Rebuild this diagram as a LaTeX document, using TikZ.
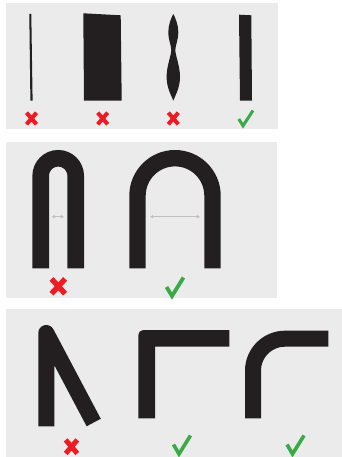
\documentclass[tikz,border=0pt]{standalone}
\usepackage{tikz}
\usetikzlibrary{arrows.meta}
\usepackage{xcolor}
\definecolor{panelgray}{HTML}{EBEBEB}
\definecolor{ink}{HTML}{231F20}
\definecolor{wrongred}{HTML}{ED1C24}
\definecolor{rightgreen}{HTML}{3AAA48}

\begin{document}
\begin{tikzpicture}[x=1pt,y=-1pt,
  panel/.style={fill=panelgray},
  crossmk/.style={wrongred,line width=4},
  checkmk/.style={rightgreen,line width=3,line join=miter},
  gapline/.style={gray!50,line width=0.8,{Latex[length=3.2,width=4]}-{Latex[length=3.2,width=4]}}]
  \useasboundingbox (0,0) rectangle (342,457);
  \begin{scope}
    \fill[panel] (6,3) rectangle (278,129);
    \fill[ink] (29.3,14) -- (31.3,14) -- (32.6,100.7) -- (30.4,100.7) -- cycle;
    \fill[ink] (83.3,13.3) -- (120.7,15.3) -- (121.7,100.7) -- (84,100.7) -- cycle;
    \fill[ink] (173.3,14) .. controls (175.5,18) and (178.3,25) .. (178.3,32)
      .. controls (178.3,40) and (175.5,45) .. (175.3,50)
      .. controls (175.5,56) and (180,66) .. (180,77)
      .. controls (180,88) and (175,96) .. (173.3,100.7)
      .. controls (171.6,96) and (166.6,88) .. (166.6,77)
      .. controls (166.6,66) and (171.1,56) .. (171.3,50)
      .. controls (171.1,45) and (168.3,40) .. (168.3,32)
      .. controls (168.3,25) and (171.1,18) .. (173.3,14) -- cycle;
    \fill[ink] (239,14.7) -- (251.3,15.3) -- (252,100.7) -- (240,100.7) -- cycle;
    \draw[crossmk] (31.5,118.5) +(-5,-5.8) -- +(5,5.8) +(-5,5.8) -- +(5,-5.8);
    \draw[crossmk] (102.7,118.5) +(-5,-5.8) -- +(5,5.8) +(-5,5.8) -- +(5,-5.8);
    \draw[crossmk] (173.3,118.5) +(-5,-5.8) -- +(5,5.8) +(-5,5.8) -- +(5,-5.8);
    \draw[checkmk] (238.8,119) -- (243,125.8) -- (253,110.5);
  \end{scope}
  \begin{scope}
    \fill[panel] (6,142.3) rectangle (276.7,297.7);
    \draw[ink,line width=16.6] (40.7,268.3) -- (40.7,175.8) arc (180:360:17.5) -- (75.7,268.3);
    \draw[ink,line width=16.4] (137.5,268.3) -- (137.5,195.7) arc (180:360:37.5) -- (212.5,268.3);
    \draw[gapline] (51.7,216.7) -- (64,216.7);
    \draw[gapline] (150,216.7) -- (200,216.7);
    \draw[crossmk,line width=5.4] (58.3,286.3) +(-6.8,-7.4) -- +(6.8,7.4) +(-6.8,7.4) -- +(6.8,-7.4);
    \draw[checkmk,line width=3.8] (166.5,287) -- (172,296) -- (183.5,277.5);
  \end{scope}
  \begin{scope}
    \fill[panel] (6,309.3) rectangle (342,457);
    \draw[ink,line width=16,line join=round] (46.3,426.3) -- (46.3,333) -- (93.7,422.5);
    \fill[ink] (155,418.3) -- (138.3,418.3) -- (138.3,335) arc (180:270:5)
      -- (229.3,330) -- (229.3,346.7) -- (155,346.7) -- cycle;
    \draw[ink,line width=16] (253,418.3) -- (253,370.7) arc (180:270:32) -- (328.3,338.7);
    \draw[crossmk,line width=5] (71.5,446.7) +(-5.8,-6.8) -- +(5.8,6.8) +(-5.8,6.8) -- +(5.8,-6.8);
    \draw[checkmk,line width=3.6] (173.5,444.5) -- (179,454) -- (190.5,435.5);
    \draw[checkmk,line width=3.6] (287,444.5) -- (292.5,454) -- (304,435.5);
  \end{scope}
\end{tikzpicture}
\end{document}
